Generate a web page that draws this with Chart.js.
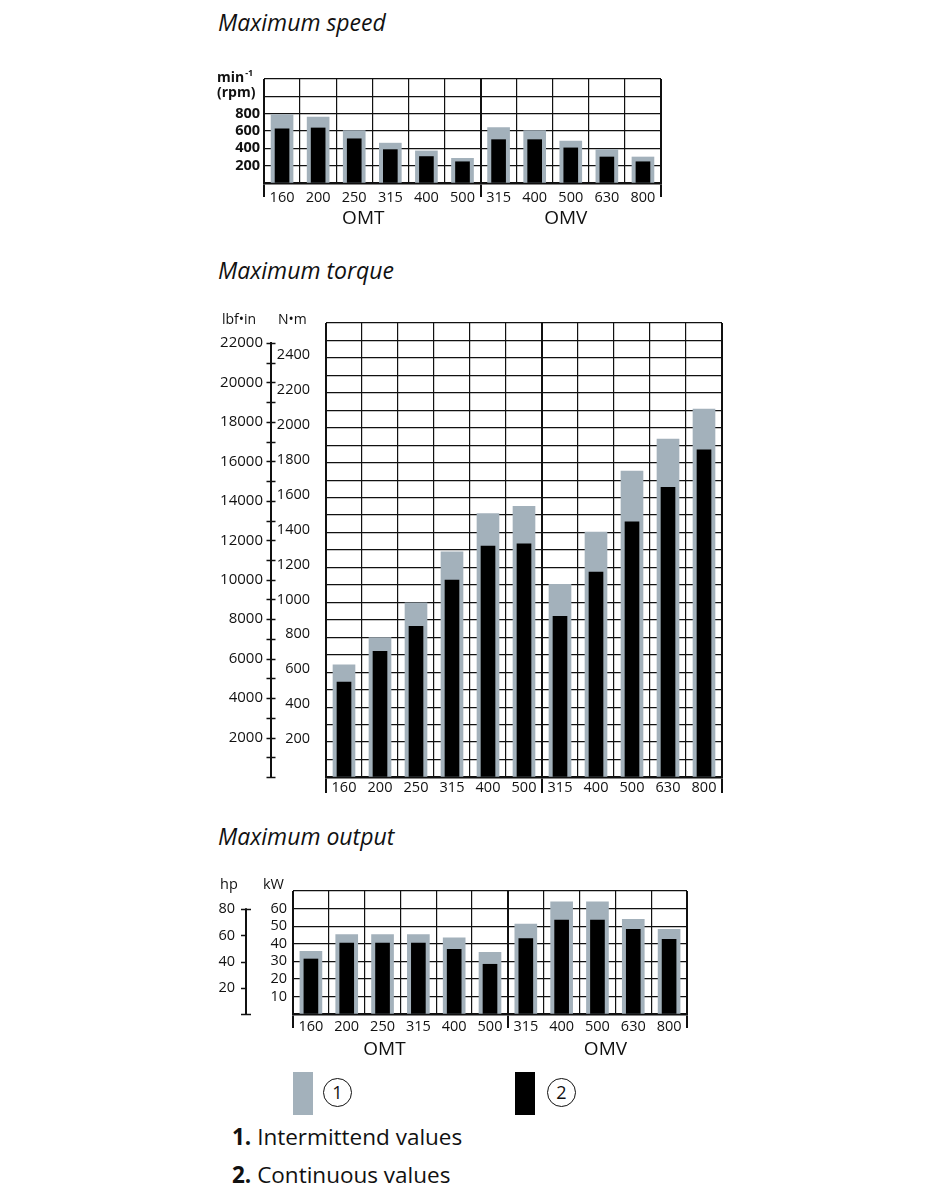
<!DOCTYPE html>
<html>
<head>
<meta charset="utf-8">
<script src="https://cdn.jsdelivr.net/npm/chart.js@4.4.0/dist/chart.umd.min.js"></script>
<style>
  html, body { margin:0; padding:0; background:#fff; }
  body { width:927px; height:1200px; position:relative; font-family:"Open Sans", sans-serif; color:#111; overflow:hidden; }
  canvas { position:absolute; }
  .title { position:absolute; font-style:italic; font-size:23px; line-height:26px; white-space:nowrap; }
  .sw { position:absolute; width:20px; height:43px; }
  .circ { position:absolute; width:27px; height:27px; border:1.4px solid #111; border-radius:50%;
          font-size:18px; line-height:27px; text-align:center; }
  .leg { position:absolute; font-size:22.5px; line-height:26px; white-space:nowrap; }
  .leg b { font-weight:700; }
</style>
</head>
<body>
<div class="title" style="left:218px; top:9px;">Maximum speed</div>
<div class="title" style="left:218px; top:257px;">Maximum torque</div>
<div class="title" style="left:218px; top:823px;">Maximum output</div>

<canvas id="speed" width="480" height="190" style="left:200px; top:50px;"></canvas>
<canvas id="torque" width="540" height="520" style="left:200px; top:290px;"></canvas>
<canvas id="output" width="520" height="210" style="left:200px; top:860px;"></canvas>

<div class="sw" style="left:293px; top:1072px; background:#a3b1bb;"></div>
<div class="circ" style="left:323px; top:1078px;">1</div>
<div class="sw" style="left:515px; top:1072px; background:#000;"></div>
<div class="circ" style="left:547px; top:1078px;">2</div>
<div class="leg" style="left:232px; top:1124px;"><b>1.</b> Intermittend values</div>
<div class="leg" style="left:232px; top:1162px;"><b>2.</b> Continuous values</div>

<script>
// ---------------- DATA ----------------
const categories = ['160','200','250','315','400','500','315','400','500','630','800'];
const groups = ['OMT','OMV'];

// Maximum speed (min-1 / rpm)
const speedIntermittent = [790, 760, 605, 460, 370, 285, 640, 605, 485, 385, 300];
const speedContinuous   = [625, 635, 510, 385, 305, 245, 500, 500, 405, 300, 245];
const speedTicks = [200, 400, 600, 800];

// Maximum torque (N·m)
const torqueIntermittent = [642, 798, 998, 1290, 1509, 1550, 1103, 1402, 1752, 1935, 2107];
const torqueContinuous   = [543, 720, 863, 1128, 1322, 1335, 920, 1173, 1461, 1659, 1874];
const torqueNmTicks  = [200,400,600,800,1000,1200,1400,1600,1800,2000,2200,2400];
const torqueLbfTicks = [2000,4000,6000,8000,10000,12000,14000,16000,18000,20000,22000];

// Maximum output (kW)
const outputIntermittent = [35.7, 45.2, 45.2, 45.2, 43.3, 35.1, 51.2, 63.9, 63.9, 53.9, 48.2];
const outputContinuous   = [31.3, 40.4, 40.4, 40.4, 36.8, 28.3, 42.9, 53.5, 53.5, 48.2, 42.5];
const outputKwTicks = [10, 20, 30, 40, 50, 60];
const outputHpTicks = [20, 40, 60, 80];

const NM_TO_LBFIN = 8.850746;
const KW_TO_HP = 1.341022;

// ---------------- STYLE ----------------
const GRAY = '#a3b1bb';
const INK = '#111';
const FONT = '"Open Sans", sans-serif';

function isBoundary(ctx) {
  const i = ctx.index;
  return (i === undefined || ctx.type === 'scale' || i === 0 || i === 6);
}

function barDatasets(intVals, contVals) {
  return [
    { label: 'Continuous values', data: contVals, backgroundColor: '#000', barThickness: 14, grouped: false, order: 0 },
    { label: 'Intermittend values', data: intVals, backgroundColor: GRAY, barThickness: 22, grouped: false, order: 1 }
  ];
}

function xAxis(height, tickLen, pad) {
  return {
    type: 'category',
    grid: {
      offset: true,
      color: INK,
      lineWidth: ctx => isBoundary(ctx) ? 2 : 1.2,
      tickLength: tickLen,
      tickColor: ctx => isBoundary(ctx) ? INK : 'rgba(0,0,0,0)',
      tickWidth: 2
    },
    border: { display: true, color: INK, width: 2.5 },
    ticks: { color: INK, font: { family: FONT, size: 14.5 }, padding: pad, autoSkip: false, maxRotation: 0 },
    afterFit: s => { s.width = s.width; s.height = height; }
  };
}

function drawText(c, txt, x, y, font, align) {
  c.font = font; c.textAlign = align || 'left'; c.textBaseline = 'middle'; c.fillStyle = INK;
  c.fillText(txt, x, y);
}

Chart.defaults.animation = false;
Chart.defaults.font.family = FONT;

// ---------------- SPEED ----------------
new Chart(document.getElementById('speed'), {
  type: 'bar',
  data: { labels: categories, datasets: barDatasets(speedIntermittent, speedContinuous) },
  options: {
    responsive: false,
    layout: { padding: { top: 29, right: 19, left: 0, bottom: 0 } },
    plugins: { legend: { display: false }, tooltip: { enabled: false } },
    scales: {
      x: xAxis(57, 14, -7.7),
      y: {
        min: 0, max: 1200,
        grid: { color: INK, lineWidth: 1.2, drawTicks: false },
        border: { display: false },
        ticks: { stepSize: 200, autoSkip: false, padding: 4, color: INK,
                 font: { family: FONT, size: 14.5, weight: '700' },
                 callback: v => speedTicks.includes(v) ? String(v) : '' },
        afterFit: s => { s.width = 64; }
      }
    }
  },
  plugins: [{
    id: 'speedExtras',
    afterDraw(chart) {
      const c = chart.ctx; c.save();
      drawText(c, 'min', 17, 28, '700 14px ' + FONT);
      const w = c.measureText('min').width;
      drawText(c, '-1', 17 + w + 1, 23, '700 9px ' + FONT);
      drawText(c, '(rpm)', 17, 43.5, '700 14px ' + FONT);
      const x = chart.scales.x;
      const gy = 168.5;
      drawText(c, groups[0], (x.getPixelForValue(0) + x.getPixelForValue(5)) / 2 - 9, gy, '19px ' + FONT, 'center');
      drawText(c, groups[1], (x.getPixelForValue(6) + x.getPixelForValue(10)) / 2 - 5, gy, '19px ' + FONT, 'center');
      c.restore();
    }
  }]
});

// ---------------- TORQUE ----------------
new Chart(document.getElementById('torque'), {
  type: 'bar',
  data: { labels: categories, datasets: barDatasets(torqueIntermittent, torqueContinuous) },
  options: {
    responsive: false,
    layout: { padding: { top: 33, right: 18, left: 0, bottom: 0 } },
    plugins: { legend: { display: false }, tooltip: { enabled: false } },
    scales: {
      x: xAxis(33, 16, -13.7),
      y: {
        min: 0, max: 2600, weight: 0, position: 'left',
        grid: { color: INK, lineWidth: 1.2, drawTicks: false },
        border: { display: false },
        ticks: { stepSize: 100, autoSkip: false, padding: 16, labelOffset: -3, color: INK,
                 font: { family: FONT, size: 14.5 },
                 callback: v => torqueNmTicks.includes(v) ? String(v) : '' },
        afterFit: s => { s.width = 55; }
      },
      y2: {
        type: 'linear', position: 'left', weight: 1,
        min: 0, max: 2600 * NM_TO_LBFIN,
        grid: { display: false, drawTicks: false },
        border: { display: false },
        ticks: { display: false, stepSize: 1000 },
        afterFit: s => { s.width = 71; }
      }
    }
  },
  plugins: [{
    id: 'torqueExtras',
    afterDraw(chart) {
      const c = chart.ctx; c.save();
      const s = chart.scales.y2;
      const ax = s.right;
      c.strokeStyle = INK; c.lineWidth = 2;
      c.beginPath();
      c.moveTo(ax, s.getPixelForValue(0) + 1);
      c.lineTo(ax, s.getPixelForValue(22000) - 1);
      c.stroke();
      c.lineWidth = 1.5;
      for (let v = 0; v <= 22000; v += 1000) {
        const py = Math.round(s.getPixelForValue(v)) + 0.5;
        c.beginPath(); c.moveTo(ax - 4.5, py); c.lineTo(ax + 4.5, py); c.stroke();
      }
      torqueLbfTicks.forEach(v => {
        drawText(c, String(v), ax - 8, s.getPixelForValue(v), '15px ' + FONT, 'right');
      });
      drawText(c, 'lbf\u2022in', 22, 30, '14px ' + FONT);
      drawText(c, 'N\u2022m', 78, 30, '14px ' + FONT);
      c.restore();
    }
  }]
});

// ---------------- OUTPUT ----------------
new Chart(document.getElementById('output'), {
  type: 'bar',
  data: { labels: categories, datasets: barDatasets(outputIntermittent, outputContinuous) },
  options: {
    responsive: false,
    layout: { padding: { top: 31, right: 33, left: 0, bottom: 0 } },
    plugins: { legend: { display: false }, tooltip: { enabled: false } },
    scales: {
      x: xAxis(56, 14, -9.7),
      y: {
        min: 0, max: 70, weight: 0, position: 'left',
        grid: { color: INK, lineWidth: 1.2, drawTicks: false },
        border: { display: false },
        ticks: { stepSize: 10, autoSkip: false, padding: 6, color: INK,
                 font: { family: FONT, size: 14.5 },
                 callback: v => outputKwTicks.includes(v) ? String(v) : '' },
        afterFit: s => { s.width = 47; }
      },
      y2: {
        type: 'linear', position: 'left', weight: 1,
        min: 0, max: 70 * KW_TO_HP,
        grid: { display: false, drawTicks: false },
        border: { display: false },
        ticks: { stepSize: 20, autoSkip: false, padding: 11, color: INK,
                 font: { family: FONT, size: 14.5 },
                 callback: v => outputHpTicks.includes(v) ? String(v) : '' },
        afterFit: s => { s.width = 46; }
      }
    }
  },
  plugins: [{
    id: 'outputExtras',
    afterDraw(chart) {
      const c = chart.ctx; c.save();
      const s = chart.scales.y2;
      const ax = s.right;
      c.strokeStyle = INK; c.lineWidth = 2;
      c.beginPath();
      c.moveTo(ax, s.getPixelForValue(0) + 1);
      c.lineTo(ax, s.getPixelForValue(80) - 1);
      c.stroke();
      c.lineWidth = 1.5;
      for (let v = 0; v <= 80; v += 20) {
        const py = Math.round(s.getPixelForValue(v)) + 0.5;
        const ends = (v === 0 || v === 80);
        c.beginPath(); c.moveTo(ax - 5, py); c.lineTo(ends ? ax + 5 : ax, py); c.stroke();
      }
      drawText(c, 'hp', 20, 25, '14.5px ' + FONT);
      drawText(c, 'kW', 63, 25, '14.5px ' + FONT);
      const x = chart.scales.x;
      const gy = 190;
      drawText(c, groups[0], (x.getPixelForValue(0) + x.getPixelForValue(5)) / 2 - 16, gy, '19px ' + FONT, 'center');
      drawText(c, groups[1], (x.getPixelForValue(6) + x.getPixelForValue(10)) / 2 + 8, gy, '19px ' + FONT, 'center');
      c.restore();
    }
  }]
});
</script>
</body>
</html>
